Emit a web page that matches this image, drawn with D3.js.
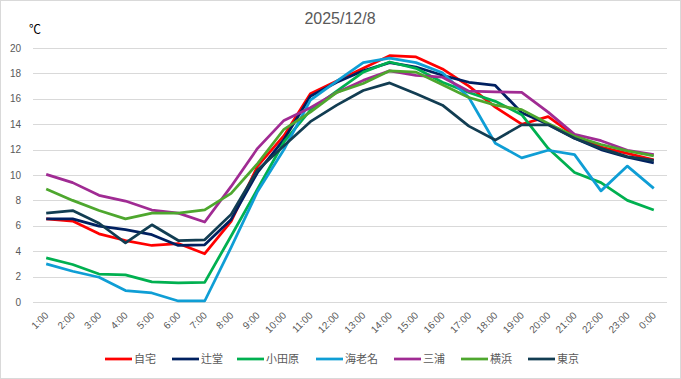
<!DOCTYPE html>
<html>
<head>
<meta charset="utf-8">
<script src="https://cdn.jsdelivr.net/npm/d3@7"></script>
<style>
  body { margin: 0; background: #fff; }
  text { font-family: "Liberation Sans", "Noto Sans CJK JP", sans-serif; }
</style>
</head>
<body>
<div id="vis"></div>
<script>
// hourly temperatures, 2025/12/8
var hours = ["1:00", "2:00", "3:00", "4:00", "5:00", "6:00", "7:00", "8:00", "9:00", "10:00", "11:00", "12:00",
             "13:00", "14:00", "15:00", "16:00", "17:00", "18:00", "19:00", "20:00", "21:00", "22:00", "23:00", "0:00"];

var names = ["自宅", "辻堂", "小田原", "海老名", "三浦", "横浜", "東京"];
var colors = ["#ff0000", "#002060", "#00b050", "#0f9ed5", "#a02b93", "#4ea72e", "#123d52"];

var jitaku   = [6.55, 6.37, 5.37, 4.84, 4.45, 4.6, 3.8, 6.35, 10.7, 13.1, 16.4, 17.4, 18.4, 19.4, 19.3, 18.35, 17.0, 15.35, 14.0, 14.6, 13.1, 12.2, 11.7, 11.2];
var tsujido  = [6.55, 6.55, 5.97, 5.7, 5.3, 4.45, 4.5, 6.5, 10.2, 12.8, 16.2, 17.3, 18.2, 18.85, 18.5, 17.85, 17.3, 17.05, 14.9, 14.0, 12.9, 12.0, 11.4, 10.95];
var odawara  = [3.47, 2.95, 2.2, 2.13, 1.58, 1.5, 1.55, 5.2, 8.9, 12.6, 15.1, 16.6, 18.1, 18.9, 18.4, 17.3, 16.5, 15.8, 14.75, 12.1, 10.2, 9.4, 8.0, 7.25];
var ebina    = [3.0, 2.42, 1.95, 0.9, 0.71, 0.08, 0.08, 4.3, 8.7, 12.0, 15.9, 17.4, 18.85, 19.2, 18.85, 18.05, 16.1, 12.5, 11.35, 11.95, 11.6, 8.75, 10.7, 8.95];
var miura    = [10.05, 9.4, 8.4, 7.95, 7.24, 7.0, 6.3, 9.1, 12.1, 14.3, 15.3, 16.5, 17.45, 18.2, 17.85, 17.7, 16.6, 16.55, 16.5, 14.95, 13.2, 12.7, 11.95, 11.6];
var yokohama = [8.9, 8.0, 7.2, 6.55, 7.0, 7.0, 7.26, 8.55, 10.9, 13.6, 14.95, 16.5, 17.2, 18.2, 18.1, 17.1, 16.1, 15.5, 15.15, 14.05, 13.05, 12.4, 11.9, 11.5];
var tokyo    = [7.0, 7.2, 6.2, 4.66, 6.08, 4.84, 4.9, 6.9, 10.4, 12.3, 14.2, 15.5, 16.65, 17.25, 16.4, 15.5, 13.85, 12.75, 13.95, 13.95, 12.9, 12.1, 11.45, 11.15];

var yTicks = [0, 2, 4, 6, 8, 10, 12, 14, 16, 18, 20];

var series = [jitaku, tsujido, odawara, ebina, miura, yokohama, tokyo];

var width = 681, height = 379;
var margin = { top: 48, right: 14, bottom: 77, left: 33 };

var svg = d3.select("#vis").append("svg")
    .attr("width", width)
    .attr("height", height);

// chart border
svg.append("rect")
    .attr("x", 0.5).attr("y", 0.5)
    .attr("width", width - 1).attr("height", height - 1)
    .attr("fill", "#fff")
    .attr("stroke", "#d9d9d9");

var x = d3.scalePoint()
    .domain(hours)
    .range([margin.left, width - margin.right])
    .padding(0.5);

var y = d3.scaleLinear()
    .domain([0, 20])
    .range([height - margin.bottom, margin.top]);

// gridlines
svg.append("g")
  .selectAll("line")
  .data(yTicks)
  .enter().append("line")
    .attr("x1", margin.left)
    .attr("x2", width - margin.right)
    .attr("y1", function(d) { return Math.round(y(d)) + 0.5; })
    .attr("y2", function(d) { return Math.round(y(d)) + 0.5; })
    .attr("stroke", "#d9d9d9")
    .attr("stroke-width", 1);

// y labels
svg.append("g")
  .selectAll("text")
  .data(yTicks)
  .enter().append("text")
    .attr("x", 21)
    .attr("y", function(d) { return y(d) + 3.5; })
    .attr("text-anchor", "end")
    .attr("font-size", "10px")
    .attr("fill", "#595959")
    .text(function(d) { return d; });

// x labels, rotated
svg.append("g")
  .selectAll("text")
  .data(hours)
  .enter().append("text")
    .attr("transform", function(d) { return "translate(" + (x(d) + 3) + "," + 316 + ") rotate(-45)"; })
    .attr("text-anchor", "end")
    .attr("font-size", "10px")
    .attr("fill", "#595959")
    .text(function(d) { return d; });

// title and unit
svg.append("text")
    .attr("x", 340)
    .attr("y", 24)
    .attr("text-anchor", "middle")
    .attr("font-size", "16px")
    .attr("fill", "#595959")
    .text("2025/12/8");

svg.append("text")
    .attr("x", 29)
    .attr("y", 34)
    .attr("font-size", "12px")
    .attr("fill", "#000")
    .text("℃");

var line = d3.line()
    .x(function(d, i) { return x(hours[i]); })
    .y(function(d) { return y(d); });

svg.append("g")
  .selectAll("path")
  .data(series)
  .enter().append("path")
    .attr("d", line)
    .attr("fill", "none")
    .attr("stroke", function(d, i) { return colors[i]; })
    .attr("stroke-width", 2.75)
    .attr("stroke-linejoin", "round");

// legend
var legendX = [105, 172, 237, 316, 394, 461, 528];
var legend = svg.append("g")
  .selectAll("g")
  .data(names)
  .enter().append("g")
    .attr("transform", function(d, i) { return "translate(" + legendX[i] + ",359)"; });

legend.append("line")
    .attr("x1", 0).attr("x2", 27)
    .attr("stroke", function(d, i) { return colors[i]; })
    .attr("stroke-width", 2.75);

legend.append("text")
    .attr("x", 29)
    .attr("y", 4)
    .attr("font-size", "11px")
    .attr("fill", "#595959")
    .text(function(d) { return d; });
</script>
</body>
</html>
